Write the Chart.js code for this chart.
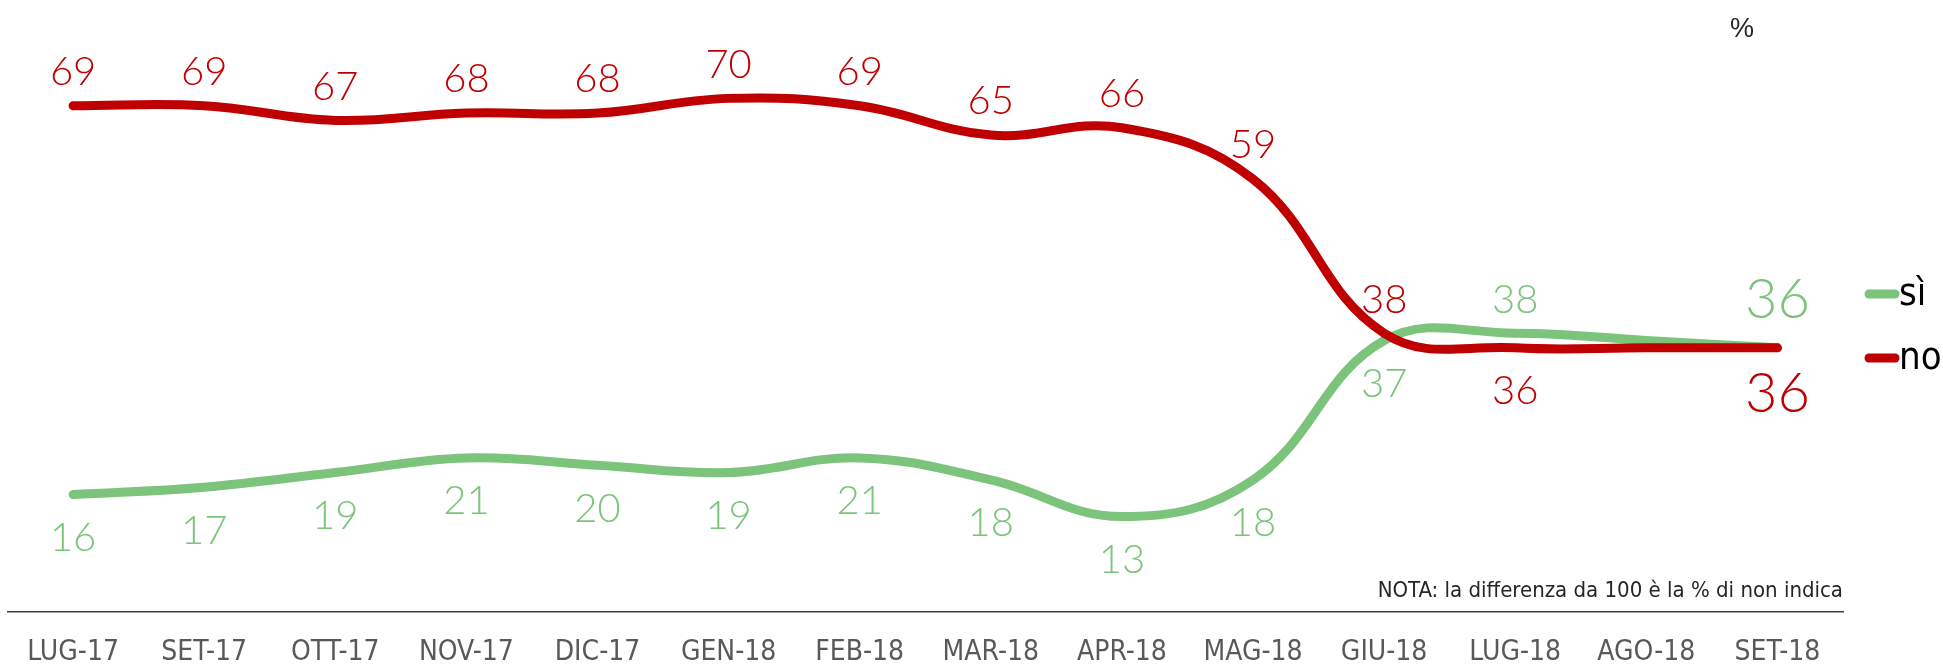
<!DOCTYPE html>
<html>
<head>
<meta charset="utf-8">
<script src="https://cdn.jsdelivr.net/npm/chart.js@4.4.1/dist/chart.umd.min.js"></script>
<style>
html, body { margin: 0; padding: 0; background: #ffffff; }
#wrap { width: 1943px; height: 667px; }
</style>
</head>
<body>
<div id="wrap"><canvas id="grafico" width="1943" height="667"></canvas></div>
<script>
// dati
const mesi = ["LUG-17", "SET-17", "OTT-17", "NOV-17", "DIC-17", "GEN-18", "FEB-18",
	"MAR-18", "APR-18", "MAG-18", "GIU-18", "LUG-18", "AGO-18", "SET-18"];
const valoriSi = [16, 17, 19, 21, 20, 19, 21, 18, 13, 18, 37, 38, 37, 36];
const valoriNo = [69, 69, 67, 68, 68, 70, 69, 65, 66, 59, 38, 36, 36, 36];

// dove mettere l'etichetta: "su", "giu", "" = nessuna
const latiSi = ["giu", "giu", "giu", "giu", "giu", "giu", "giu", "giu", "giu", "giu", "giu", "su", "", "su"];
const latiNo = ["su", "su", "su", "su", "su", "su", "su", "su", "su", "su", "su", "giu", "", "giu"];

const VERDE = "#7CC47C";
const ROSSO = "#C00000";
const CONDENSATO = "'DejaVu Sans Condensed'";

// etichette dei valori sui punti
const etichette = {
	id: "etichette",
	afterDatasetsDraw(chart) {
		const ctx = chart.ctx;
		ctx.save();
		ctx.textAlign = "center";
		ctx.textBaseline = "alphabetic";
		chart.data.datasets.forEach((ds, di) => {
			const meta = chart.getDatasetMeta(di);
			const ultimo = ds.data.length - 1;
			meta.data.forEach((pt, i) => {
				const lato = ds.lati[i];
				if (!lato) return;
				const grande = i === ultimo;
				const size = grande ? 56 : 40;
				let centro;
				if (lato === "su") centro = pt.y - (grande ? 50 : 35);
				else centro = pt.y + (grande ? 44 : 42);
				ctx.font = "300 " + size + "px Lato";
				ctx.fillStyle = ds.borderColor;
				ctx.fillText(String(ds.data[i]), pt.x, centro + size * 0.36);
			});
		});
		ctx.restore();
	},
};

// legenda, nota e simbolo %
const extra = {
	id: "extra",
	afterDraw(chart) {
		const ctx = chart.ctx;
		const area = chart.chartArea;
		ctx.save();
		// legenda
		const cy = [294, 358];
		chart.data.datasets.forEach((ds, di) => {
			const y = cy[di];
			const x0 = area.right + 26;
			ctx.strokeStyle = ds.borderColor;
			ctx.lineWidth = 9;
			ctx.lineCap = "round";
			ctx.beginPath();
			ctx.moveTo(x0, y);
			ctx.lineTo(x0 + 26, y);
			ctx.stroke();
			ctx.fillStyle = "#000000";
			ctx.font = "38px " + CONDENSATO;
			ctx.textAlign = "left";
			ctx.textBaseline = "alphabetic";
			ctx.fillText(ds.label, x0 + 30, y + 11);
		});
		// %
		ctx.fillStyle = "#262626";
		ctx.font = "27px 'Liberation Sans'";
		ctx.textAlign = "center";
		ctx.fillText("%", 1742, 37);
		// nota
		ctx.fillStyle = "#262626";
		ctx.font = "22px " + CONDENSATO;
		ctx.textAlign = "right";
		ctx.fillText("NOTA: la differenza da 100 è la % di non indica", area.right, 597);
		ctx.restore();
	},
};

const ctx = document.getElementById("grafico").getContext("2d");

const grafico = new Chart(ctx, {
	type: "line",
	data: {
		labels: mesi,
		datasets: [
			{
				label: "sì",
				data: valoriSi,
				lati: latiSi,
				borderColor: VERDE,
				borderWidth: 9,
				borderCapStyle: "round",
				borderJoinStyle: "round",
				pointRadius: 0,
				tension: 0.4,
				fill: false,
				order: 1,
			},
			{
				label: "no",
				data: valoriNo,
				lati: latiNo,
				borderColor: ROSSO,
				borderWidth: 9,
				borderCapStyle: "round",
				borderJoinStyle: "round",
				pointRadius: 0,
				tension: 0.4,
				fill: false,
				order: 0,
			},
		],
	},
	options: {
		responsive: false,
		animation: false,
		devicePixelRatio: 1,
		clip: false,
		layout: {
			// il padding dei tick conta due volte, lo compenso in basso
			padding: { top: 25, left: 6, right: 100, bottom: -27 },
		},
		plugins: {
			legend: { display: false },
			tooltip: { enabled: false },
		},
		scales: {
			y: {
				display: false,
				min: 0,
				max: 80,
			},
			x: {
				offset: true,
				grid: { display: false, drawTicks: false },
				border: { display: true, color: "#404040", width: 1.5 },
				ticks: {
					padding: 27,
					maxRotation: 0,
					autoSkip: false,
					color: "#595959",
					font: { size: 28, family: CONDENSATO, lineHeight: 1 },
				},
			},
		},
	},
	plugins: [etichette, extra],
});
</script>
</body>
</html>
